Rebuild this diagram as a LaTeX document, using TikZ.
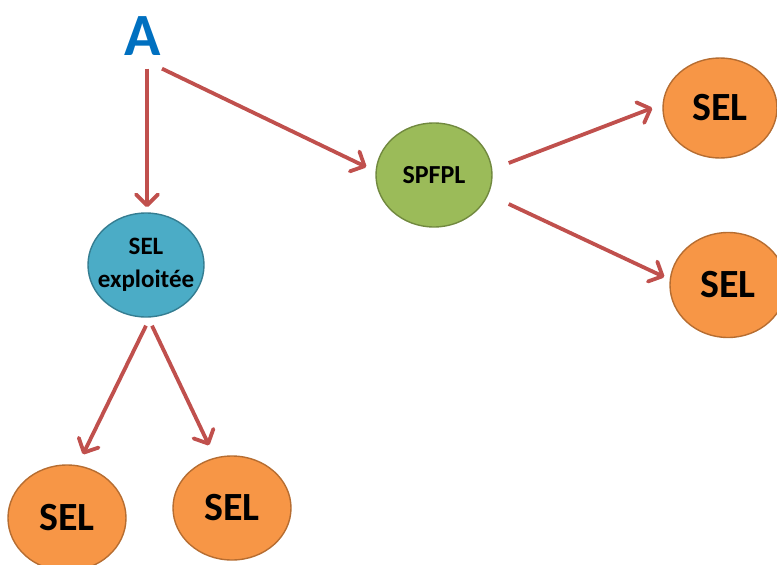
\documentclass[tikz,border=0pt]{standalone}
\usepackage{fontspec}
\setmainfont{Carlito}
\usetikzlibrary{shapes.geometric,arrows.meta}

\definecolor{ablue}{HTML}{0070C0}
\definecolor{tealfill}{HTML}{4BACC6}
\definecolor{tealline}{HTML}{357D91}
\definecolor{greenfill}{HTML}{9BBB59}
\definecolor{greenline}{HTML}{71893F}
\definecolor{orangefill}{HTML}{F79646}
\definecolor{orangeline}{HTML}{B66D31}
\definecolor{arrowred}{HTML}{C0504D}

\tikzset{
  bubble/.style={ellipse, inner sep=0pt, line width=1.4pt,
    font=\bfseries, text=black, align=center},
  selnode/.style={bubble, fill=orangefill, draw=orangeline,
    minimum width=116pt, minimum height=104pt, font=\fontsize{40}{44}\selectfont\bfseries},
  link/.style={draw=arrowred, line width=3.8pt,
    -{Straight Barb[length=11pt,width=22pt,round]}}
}

\begin{document}
\begin{tikzpicture}[x=1pt,y=-1pt]
  \path[use as bounding box] (0,0) rectangle (777,565);

  % root label
  \node[inner sep=0pt, text=ablue, font=\fontsize{60}{62}\selectfont\bfseries] (A) at (143,36) {A};

  % inner nodes (negative inner sep keeps the two-line label from widening the ellipse)
  \node[bubble, inner sep=-14pt, fill=tealfill, draw=tealline, minimum width=116pt, minimum height=104pt,
        font=\fontsize{25}{33}\selectfont\bfseries] (sexp) at (146,265) {SEL\\exploitée};
  \node[bubble, fill=greenfill, draw=greenline, minimum width=116pt, minimum height=104pt,
        font=\fontsize{26}{28}\selectfont\bfseries] (spfpl) at (434,175) {SPFPL};

  % leaves
  \node[selnode, minimum width=114pt, minimum height=100pt] (sel1) at (720,108) {SEL};
  \node[selnode, minimum height=105pt] (sel2) at (728,285) {SEL};
  \node[selnode, minimum width=118pt, minimum height=106pt] (sel3) at (67,518) {SEL};
  \node[selnode, minimum width=118pt] (sel4) at (232,508) {SEL};

  % connectors
  \draw[link] ([xshift=4pt,yshift=-13pt]A.south) -- ([xshift=1pt,yshift=5pt]sexp.north);
  \draw[link] ([xshift=19pt,yshift=-13pt]A.south) -- ([xshift=-9pt,yshift=8pt]spfpl.west);
  \draw[link] ([xshift=16pt,yshift=12pt]spfpl.east) -- ([xshift=-10pt]sel1.west);
  \draw[link] ([xshift=16pt,yshift=-29pt]spfpl.east) -- ([xshift=-5pt,yshift=8pt]sel2.west);
  \draw[link] ([yshift=-8pt]sexp.south) -- ([xshift=16pt,yshift=10pt]sel3.north);
  \draw[link] ([xshift=6pt,yshift=-8pt]sexp.south) -- ([xshift=-23pt,yshift=10pt]sel4.north);
\end{tikzpicture}
\end{document}
